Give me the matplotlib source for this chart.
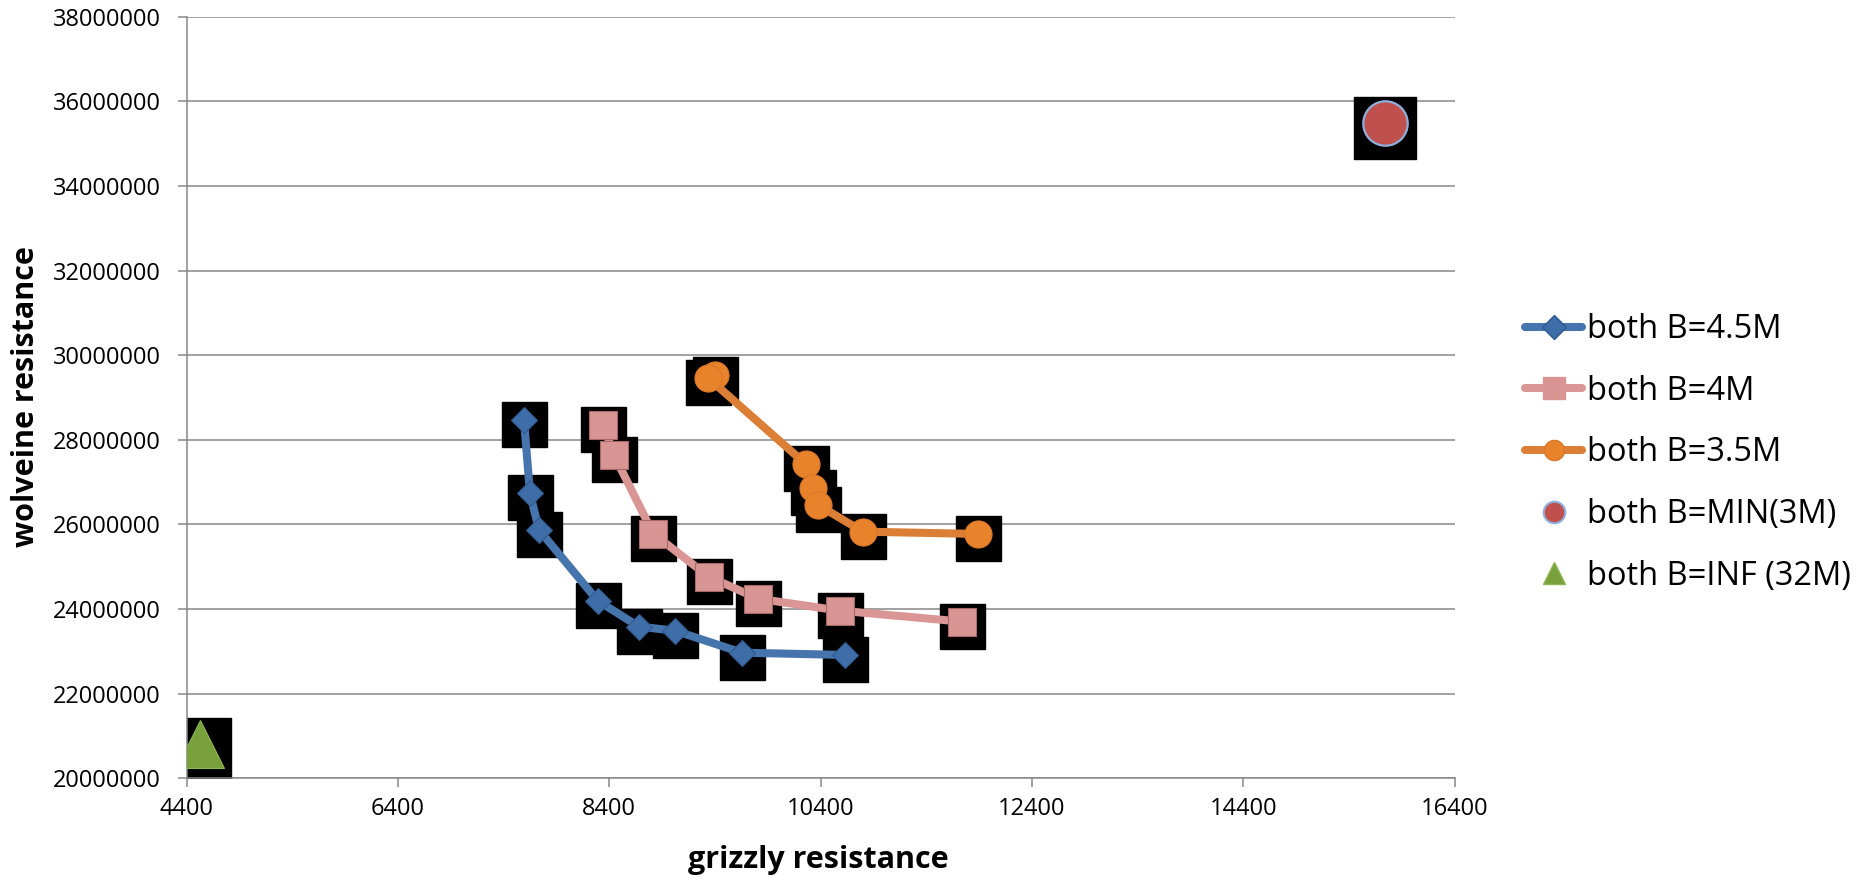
import matplotlib.pyplot as plt
from matplotlib.lines import Line2D
from matplotlib.transforms import ScaledTranslation

plt.rcParams['font.family'] = ['Open Sans', 'DejaVu Sans']

# resistência medida para cada configuração de B
b45_x = [7593, 7649, 7735, 8290, 8681, 9022, 9656, 10631]
b45_y = [28470000, 26737000, 25870000, 24198000, 23584000, 23489000, 22969000, 22915000]

b4_x = [8343, 8444, 8816, 9341, 9807, 10583, 11741]
b4_y = [28352000, 27643000, 25782000, 24766000, 24246000, 23962000, 23702000]

b35_x = [9400, 9337, 10262, 10331, 10378, 10798, 11887]
b35_y = [29534000, 29460000, 27423000, 26870000, 26461000, 25830000, 25775000]

bmin_x = [15742]
bmin_y = [35484000]

binf_x = [4523]
binf_y = [20811000]

x_ticks = [4400, 6400, 8400, 10400, 12400, 14400, 16400]
y_ticks = [20000000, 22000000, 24000000, 26000000, 28000000, 30000000,
           32000000, 34000000, 36000000, 38000000]

W, H = 1862, 880
fig = plt.figure(figsize=(W / 100, H / 100), dpi=100)
ax = fig.add_axes([186.7 / W, 1 - 778.3 / H, (1454.5 - 186.7) / W, (778.3 - 16.7) / H])

cinza = '#878787'


def sombra(dy_px):
    # caixa preta deslocada um pouco para baixo
    return ax.transData + ScaledTranslation(0, -dy_px / 100, fig.dpi_scale_trans)


series = [
    (b45_x, b45_y, '#4674AC', 'D', 13.5, '#3F6DA8', '#2F5A8E'),
    (b4_x, b4_y, '#D99694', 's', 19.5, '#D99594', '#A46A68'),
    (b35_x, b35_y, '#DC7F36', 'o', 19.5, '#E8832C', '#D9782A'),
]

for xs, ys, cor_linha, mk, ms, cor_mk, borda in series:
    ax.plot(xs, ys, 's', ms=32.4, color='black', lw=0, transform=sombra(4), zorder=2)
    ax.plot(xs, ys, '-', color=cor_linha, lw=5.8, zorder=3, solid_capstyle='butt')
    ax.plot(xs, ys, mk, ms=ms, mfc=cor_mk, mec=borda, mew=0.8, lw=0, zorder=4)

ax.plot(bmin_x, bmin_y, 's', ms=45, color='black', lw=0, transform=sombra(5), zorder=2)
ax.plot(bmin_x, bmin_y, 'o', ms=32, mfc='#C0504D', mec='#8FB0DC', mew=1.6, lw=0, zorder=4)

ax.plot(binf_x, binf_y, 's', ms=45, color='black', lw=0, transform=sombra(5), zorder=2)
ax.plot(binf_x, binf_y, '^', ms=34, mfc='#78A03B', mec='#8DB656', mew=0.8, lw=0, zorder=4)

ax.set_xlim(4400, 16400)
ax.set_ylim(20000000, 38000000)
ax.set_xticks(x_ticks)
ax.set_yticks(y_ticks)
ax.set_xticklabels([str(v) for v in x_ticks])
ax.set_yticklabels([str(v) for v in y_ticks])
ax.tick_params(axis='both', labelsize=17, color=cinza, width=1.1, length=6.5)
ax.tick_params(axis='y', pad=12)
ax.tick_params(axis='x', pad=7)

ax.grid(axis='y', color=cinza, lw=1.1)
ax.set_axisbelow(True)
for lado in ['top', 'right']:
    ax.spines[lado].set_visible(False)
for lado in ['left', 'bottom']:
    ax.spines[lado].set_color(cinza)
    ax.spines[lado].set_linewidth(1.1)

fig.text(818 / W, 1 - 860 / H, 'grizzly resistance', fontsize=22, fontweight='bold',
         ha='center', va='center')
fig.text(26 / W, 1 - 397 / H, 'wolveine resistance', fontsize=22, fontweight='bold',
         ha='center', va='center', rotation=90)

# legenda montada à mão, sem as caixas pretas
handles = [
    Line2D([], [], color='#4674AC', lw=5.8, marker='D', ms=12.5, mfc='#3F6DA8', mec='#2F5A8E',
           solid_capstyle='round'),
    Line2D([], [], color='#D99694', lw=5.8, marker='s', ms=16.5, mfc='#D99594', mec='#D99594',
           solid_capstyle='round'),
    Line2D([], [], color='#DC7F36', lw=5.8, marker='o', ms=14.5, mfc='#E8832C', mec='#D9782A',
           solid_capstyle='round'),
    Line2D([], [], lw=0, marker='o', ms=15.5, mfc='#C0504D', mec='#8FB0DC', mew=1.5),
    Line2D([], [], lw=0, marker='^', ms=16.5, mfc='#78A03B', mec='#8DB656'),
]
nomes = ['both B=4.5M', 'both B=4M', 'both B=3.5M', 'both B=MIN(3M)', 'both B=INF (32M)']
ax.legend(handles, nomes, loc='upper left', bbox_to_anchor=(1525 / W, 1 - 313 / H),
          bbox_transform=fig.transFigure, frameon=False, fontsize=23.5, borderpad=0,
          borderaxespad=0, handlelength=1.75, handletextpad=0.15, labelspacing=0.88)

fig.savefig('out.png', dpi=100)
